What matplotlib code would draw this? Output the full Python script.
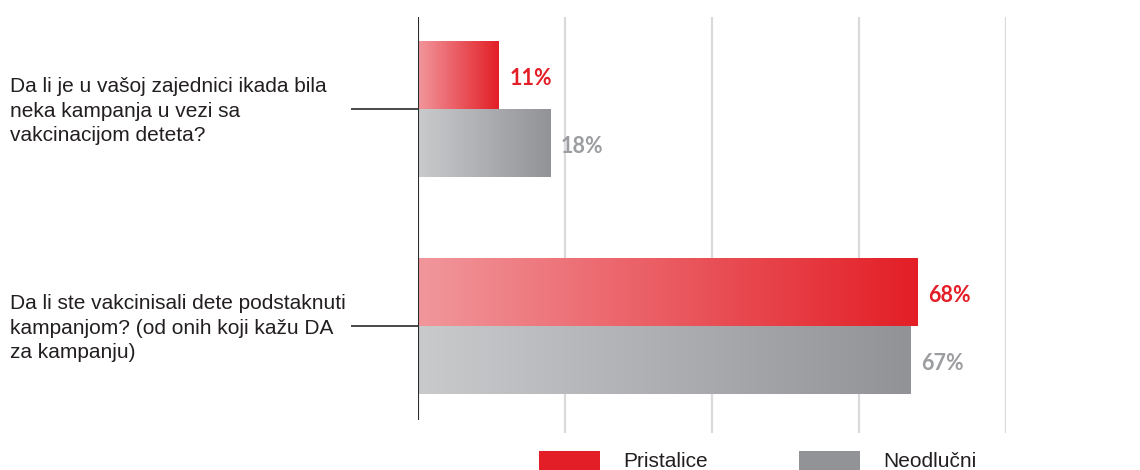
import matplotlib
matplotlib.use("Agg")
import matplotlib.pyplot as plt
import numpy as np
from matplotlib.colors import LinearSegmentedColormap
from matplotlib.patches import Patch
from matplotlib.transforms import blended_transform_factory

# Data
questions = [
    "Da li je u vašoj zajednici ikada bila\nneka kampanja u vezi sa\nvakcinacijom deteta?",
    "Da li ste vakcinisali dete podstaknuti\nkampanjom? (od onih koji kažu DA\nza kampanju)",
]
series_names = ["Pristalice", "Neodlučni"]
pristalice = [11, 68]
neodlucni = [18, 67]
grid_ticks = [20, 40, 60, 80]

RED = "#E31E26"
RED_LIGHT = "#F1979C"
GRAY = "#929397"
GRAY_LIGHT = "#C9CACC"
RED_TEXT = "#E31E26"
GRAY_TEXT = "#9C9DA1"
TEXT = "#231F20"

label_font = ["Liberation Sans Narrow", "Liberation Sans", "DejaVu Sans"]
value_font = ["Lato", "DejaVu Sans"]

W, H = 1140, 470
fig = plt.figure(figsize=(W / 100, H / 100), dpi=100)
ax = fig.add_axes([418 / W, 1 - 433 / H, (1006 - 418) / W, (433 - 17) / H])

y = np.arange(len(questions))
bar_h = 0.313

bars_p = ax.barh(y - bar_h / 2, pristalice, height=bar_h, color="none", linewidth=0)
bars_n = ax.barh(y + bar_h / 2, neodlucni, height=bar_h, color="none", linewidth=0)

# Horizontal gradient fill, clipped to each bar
grad = np.linspace(0, 1, 256).reshape(1, -1)
cmaps = [
    LinearSegmentedColormap.from_list("red_grad", [RED_LIGHT, RED]),
    LinearSegmentedColormap.from_list("gray_grad", [GRAY_LIGHT, GRAY]),
]
for bars, cmap in zip([bars_p, bars_n], cmaps):
    for rect in bars:
        x0, y0 = rect.get_x(), rect.get_y()
        w, h = rect.get_width(), rect.get_height()
        im = ax.imshow(grad, cmap=cmap, aspect="auto",
                       extent=[x0, x0 + w, y0 + h, y0], zorder=2,
                       interpolation="bicubic")
        im.set_clip_path(rect)

ax.set_xlim(0, 80)
ax.set_ylim((433 - 109) / 217, (17 - 109) / 217)

# Value labels
for bars, vals, col in [(bars_p, pristalice, RED_TEXT), (bars_n, neodlucni, GRAY_TEXT)]:
    for rect, v in zip(bars, vals):
        ax.annotate(f"{v}%", (rect.get_width(), rect.get_y() + rect.get_height() / 2),
                    xytext=(7.5, -2.5), textcoords="offset points", ha="left", va="center",
                    fontsize=15.5, fontweight="bold", color=col, family=value_font,
                    zorder=4)

# Grid lines
ax.set_xticks(grid_ticks)
ax.xaxis.grid(True, color="#DADADA", linewidth=1.6)
ax.set_axisbelow(True)
ax.tick_params(axis="x", length=0, labelbottom=False)

for s in ["top", "right", "bottom", "left"]:
    ax.spines[s].set_visible(False)
ax.axvline(0, ymin=(433 - 419) / (433 - 17), ymax=1, color="#2B2B2B", linewidth=1.5, zorder=5)

# Category ticks and labels
ax.set_yticks(y)
ax.set_yticklabels([])
ax.tick_params(axis="y", length=48, width=1.3, color="#3A3A3A", direction="out")
trans = blended_transform_factory(fig.transFigure, ax.transData)
for yi, q in zip(y, questions):
    ax.text(10 / W, yi + 0.01, q, transform=trans, ha="left", va="center",
            fontsize=15, color=TEXT, family=label_font, linespacing=1.36)

# Legend
handles = [Patch(facecolor=RED, edgecolor="none"), Patch(facecolor=GRAY, edgecolor="none")]
fig.legend(handles, series_names, loc="upper left", bbox_to_anchor=(539 / W, 1 - 451 / H),
           ncol=2, frameon=False, borderpad=0, borderaxespad=0,
           handlelength=2.93, handleheight=1.0, handletextpad=1.12, columnspacing=4.36,
           prop={"family": label_font, "size": 15}, labelcolor=TEXT)

fig.savefig("out.png", dpi=100)
